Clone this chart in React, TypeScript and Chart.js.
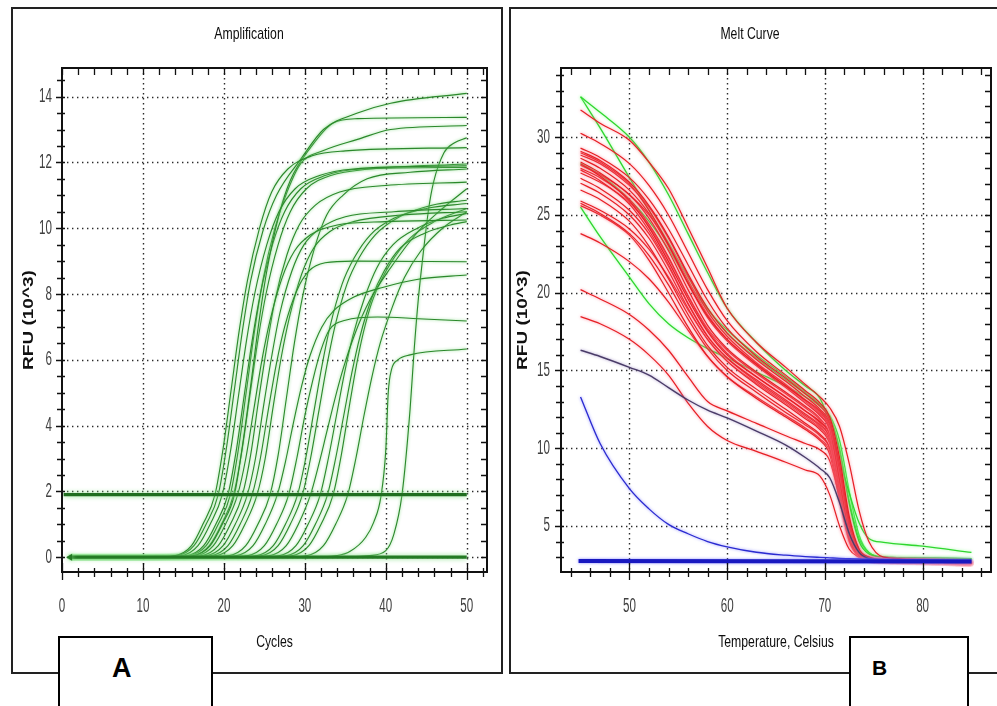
import React, { useEffect, useRef } from "react";
import { Chart, registerables } from "chart.js";

Chart.register(...registerables);

// ---------------- Amplification (Cycles vs RFU x10^3) ----------------
const ampXTicks = [0, 10, 20, 30, 40, 50];
const ampYTicks = [0, 2, 4, 6, 8, 10, 12, 14];

const ampBaseline = [[1, 0], [50, 0]];
const ampThreshold = [[0.2, 1.9], [50, 1.9]];

const ampC01 = [[1,0],[11,0],[14,0.05],[16,0.35],[17.4,1.0],[18.9,1.9],[19.9,3.3],[20.9,5.1],[21.9,6.9],[22.9,8.4],[24.4,10.0],[25.9,11.1],[27.9,11.8],[30.9,12.2],[35,12.35],[50,12.45]];
const ampC02 = [[1,0],[11.3,0],[14.3,0.05],[16.3,0.35],[17.8,1.0],[19.3,1.9],[20.3,3.3],[21.3,5.1],[22.3,6.9],[23.3,8.4],[24.8,9.9],[26.5,11.0],[29.5,12.1],[32.3,13.0],[36.5,13.5],[40.6,13.8],[50,14.1]];
const ampC03 = [[1,0],[11.8,0],[14.8,0.05],[16.8,0.35],[18.3,1.0],[19.8,1.9],[20.8,3.2],[21.8,4.9],[22.8,6.6],[23.8,8.0],[25.3,9.5],[26.8,10.5],[28.8,11.2],[31.8,11.6],[36,11.8],[50,11.9]];
const ampC04 = [[1,0],[13.3,0],[16.3,0.05],[18.3,0.35],[19.8,1.0],[21.3,1.9],[22.3,3.4],[23.3,5.2],[24.3,7.1],[25.3,8.7],[26.8,10.4],[28.2,11.45],[30.7,12.45],[33.5,13.2],[36.5,13.33],[50,13.37]];
const ampC05 = [[1,0],[12.5,0],[15.5,0.05],[17.5,0.35],[19,1.0],[20.5,1.9],[21.5,3.2],[22.5,4.9],[23.5,6.6],[24.5,8.0],[26,9.5],[27.5,10.5],[29.5,11.2],[32.5,11.6],[37,11.8],[50,11.85]];
const ampC06 = [[1,0],[12.8,0],[15.8,0.05],[17.8,0.35],[19.3,1.0],[20.8,1.9],[21.8,3.3],[22.8,5.1],[23.8,6.9],[24.8,8.4],[26.3,10.0],[27.8,11.1],[29.5,11.97],[32.3,12.36],[36.5,12.7],[40.6,13.0],[50,13.12]];
const ampC07 = [[1,0],[13.2,0],[16.2,0.05],[18.2,0.35],[19.7,1.0],[21.2,1.9],[22.2,3.2],[23.2,4.9],[24.2,6.6],[25.2,8.0],[26.7,9.5],[28.2,10.5],[30.2,11.2],[33.2,11.6],[38,11.8],[50,11.95]];
const ampC08 = [[1,0],[13.7,0],[16.7,0.05],[18.7,0.35],[20.2,1.0],[21.7,1.9],[22.7,3.0],[23.7,4.5],[24.7,6.0],[25.7,7.2],[27.2,8.5],[28.7,9.3],[30.7,9.8],[34,10.1],[40,10.2],[50,10.25]];
const ampC09 = [[1,0],[14.3,0],[17.3,0.05],[19.3,0.35],[20.8,1.0],[22.3,1.9],[23.3,3.1],[24.3,4.8],[25.3,6.4],[26.3,7.8],[27.8,9.2],[29.3,10.1],[31.3,10.7],[34.3,11.1],[40,11.3],[50,11.4]];
const ampC10 = [[1,0],[14.9,0],[17.9,0.05],[19.9,0.35],[21.4,1.0],[22.9,1.9],[23.9,3.0],[24.9,4.6],[25.9,6.1],[26.9,7.4],[28.4,8.7],[29.9,9.5],[31.9,10.0],[35,10.35],[41,10.5],[50,10.6]];
const ampC11 = [[1,0],[15.5,0],[18.5,0.05],[20.5,0.35],[22,1.0],[23.5,1.9],[24.5,3.0],[25.5,4.5],[26.5,5.9],[27.5,7.0],[29,8.1],[30.5,8.7],[32.5,8.95],[36,9.0],[50,8.98]];
const ampC12 = [[1,0],[16.1,0],[19.1,0.05],[21.1,0.35],[22.6,1.0],[24.1,1.9],[25.1,3.0],[26.1,4.6],[27.1,6.1],[28.1,7.3],[29.6,8.6],[31.1,9.4],[33.1,9.9],[36,10.2],[42,10.4],[50,10.5]];
const ampC13 = [[1,0],[17.7,0],[20.7,0.05],[22.7,0.35],[24.2,1.0],[25.7,1.9],[26.7,3.1],[27.7,4.8],[28.7,6.5],[29.7,7.9],[31.2,9.4],[32.7,10.4],[34.7,11.0],[37.7,11.5],[43,11.7],[50,11.8]];
const ampC14 = [[1,0],[18.6,0],[21.6,0.05],[23.6,0.35],[25.1,1.0],[26.6,1.9],[27.6,2.9],[28.6,4.1],[29.6,5.2],[30.6,6.1],[32.1,7.0],[33.6,7.5],[36,7.9],[39.6,8.2],[44,8.45],[50,8.58]];
const ampC15 = [[1,0],[20,0],[23,0.05],[25,0.35],[26.5,1.0],[28,1.9],[29,3.0],[30,4.3],[31,5.4],[32,6.3],[33,6.9],[35,7.2],[39,7.3],[44,7.25],[50,7.18]];
const ampC16 = [[1,0],[21.1,0],[24.1,0.05],[26.1,0.35],[27.6,1.0],[29.1,1.9],[30.1,3.0],[31.1,4.4],[32.1,5.8],[33.1,7.0],[34.6,8.3],[36.1,9.1],[38.1,9.8],[41,10.3],[45,10.6],[50,10.75]];
const ampC17 = [[1,0],[21.7,0],[24.7,0.05],[26.7,0.35],[28.2,1.0],[29.7,1.9],[30.7,3.0],[31.7,4.4],[32.7,5.8],[33.7,7.0],[35.2,8.3],[36.7,9.1],[38.7,9.8],[41.7,10.35],[45.7,10.7],[50,10.85]];
const ampC18 = [[1,0],[22.7,0],[25.7,0.05],[27.7,0.35],[29.2,1.0],[30.7,1.9],[31.7,2.8],[32.7,3.8],[33.7,4.8],[34.7,5.7],[36.2,6.8],[38,7.8],[40.6,8.8],[44,9.9],[47,10.6],[50,11.2]];
const ampC19 = [[1,0],[23.9,0],[26.9,0.05],[28.9,0.35],[30.4,1.0],[31.9,1.9],[32.9,3.0],[33.9,4.3],[34.9,5.6],[35.9,6.7],[37.4,7.9],[38.9,8.8],[40.9,9.5],[43.9,10.0],[47,10.3],[50,10.45]];
const ampC20 = [[1,0],[24.8,0],[27.8,0.05],[29.8,0.35],[31.3,1.0],[32.8,1.9],[33.8,3.0],[34.8,4.3],[35.8,5.6],[36.8,6.7],[38.3,7.9],[39.8,8.7],[41.8,9.4],[44.8,9.85],[48,10.1],[50,10.2]];
const ampC21 = [[1,0],[25.5,0],[28.5,0.05],[30.5,0.35],[32,1.0],[33.5,1.9],[34.5,3.1],[35.5,4.6],[36.5,6.0],[37.5,7.1],[38.5,7.9],[40.5,8.9],[43,9.7],[46,10.2],[50,10.6]];
const ampC22 = [[1,0],[27.3,0],[30.3,0.05],[32.3,0.35],[33.8,1.0],[35.3,1.9],[36.3,3.0],[37.3,4.3],[38.3,5.5],[39.3,6.5],[40.8,7.6],[42.3,8.5],[44.3,9.3],[47,10.0],[50,10.5]];
const ampC23 = [[1,0],[30,0],[34,0.05],[35.6,0.18],[37.5,0.6],[38.5,1.06],[39.4,1.85],[40,3.27],[40.3,5.0],[40.7,5.7],[41.5,6.0],[43,6.15],[50,6.33]];
const ampC24 = [[1,0],[33,0],[38,0.05],[40,0.2],[41,0.7],[42,1.9],[43,4.5],[43.5,6.3],[44,7.8],[44.7,9.4],[45.3,10.6],[45.9,11.4],[47.2,12.3],[48.5,12.6],[50,12.75]];

const ampCurves = [ampC01, ampC02, ampC03, ampC04, ampC05, ampC06, ampC07, ampC08, ampC09, ampC10, ampC11, ampC12,
  ampC13, ampC14, ampC15, ampC16, ampC17, ampC18, ampC19, ampC20, ampC21, ampC22, ampC23, ampC24];

// ---------------- Melt curve (Temperature vs RFU x10^3) ----------------
const meltXTicks = [50, 60, 70, 80];
const meltYTicks = [5, 10, 15, 20, 25, 30];
const meltTemps = [45, 47, 50, 52, 54, 56, 58, 60, 63, 66, 68, 69.5, 70.5, 71.5, 72.5, 73.5, 74.5, 76, 80, 85];

const meltR01 = [31.75, 30.9, 29.8, 28.4, 26.7, 24.2, 21.6, 19.0, 16.8, 15.2, 14.1, 13.3, 12.6, 11.4, 9.0, 6.0, 4.0, 3.0, 2.85, 2.75];
const meltR02 = [30.25, 29.6, 28.3, 26.9, 25.0, 22.6, 20.2, 18.2, 16.2, 14.7, 13.7, 12.9, 12.0, 9.4, 5.6, 3.5, 3.0, 2.85, 2.8, 2.7];
const meltR03 = [29.3, 28.7, 27.4, 26.0, 24.1, 21.8, 19.5, 17.7, 15.9, 14.5, 13.5, 12.7, 11.8, 9.0, 5.3, 3.4, 2.95, 2.8, 2.75, 2.65];
const meltR04 = [29.1, 28.5, 27.1, 25.6, 23.6, 21.2, 19.0, 17.4, 15.7, 14.3, 13.3, 12.5, 11.6, 8.6, 5.0, 3.3, 2.9, 2.8, 2.75, 2.65];
const meltR05 = [29.0, 28.4, 27.0, 25.3, 23.1, 20.6, 18.5, 17.0, 15.4, 14.0, 13.1, 12.4, 11.5, 8.9, 5.4, 3.5, 3.0, 2.85, 2.8, 2.7];
const meltR06 = [28.86, 28.3, 26.9, 25.5, 23.5, 21.1, 18.8, 17.2, 15.5, 14.1, 13.1, 12.3, 11.3, 8.0, 4.6, 3.2, 2.9, 2.8, 2.7, 2.65];
const meltR07 = [28.65, 28.0, 26.6, 25.1, 23.0, 20.6, 18.4, 16.9, 15.3, 13.9, 12.9, 12.1, 11.2, 8.3, 4.9, 3.3, 2.9, 2.8, 2.7, 2.6];
const meltR08 = [28.4, 27.7, 26.3, 25.0, 23.1, 20.8, 18.6, 17.0, 15.4, 14.0, 13.0, 12.2, 11.2, 8.6, 5.2, 3.4, 2.95, 2.8, 2.75, 2.7];
const meltR09 = [28.3, 27.5, 25.9, 24.2, 22.0, 19.6, 17.5, 16.0, 14.6, 13.3, 12.4, 11.7, 10.9, 8.2, 4.8, 3.3, 2.9, 2.8, 2.7, 2.6];
const meltR10 = [28.2, 27.6, 26.3, 24.8, 22.7, 20.2, 17.9, 16.4, 14.9, 13.6, 12.7, 11.9, 10.9, 7.8, 4.5, 3.2, 2.9, 2.8, 2.7, 2.6];
const meltR11 = [28.0, 27.4, 26.0, 24.4, 22.3, 19.8, 17.6, 16.1, 14.6, 13.3, 12.4, 11.6, 10.6, 7.5, 4.3, 3.1, 2.85, 2.75, 2.7, 2.6];
const meltR12 = [27.9, 27.2, 25.7, 24.0, 21.8, 19.3, 17.2, 15.8, 14.4, 13.1, 12.2, 11.5, 10.7, 8.1, 4.9, 3.3, 2.9, 2.8, 2.7, 2.6];
const meltR13 = [27.7, 27.1, 25.8, 24.3, 22.2, 19.8, 17.7, 16.3, 14.8, 13.5, 12.6, 11.8, 10.8, 8.0, 4.7, 3.2, 2.9, 2.8, 2.7, 2.6];
const meltR14 = [27.36, 26.7, 25.3, 23.8, 21.7, 19.3, 17.2, 15.8, 14.3, 13.0, 12.1, 11.4, 10.4, 7.3, 4.2, 3.1, 2.85, 2.75, 2.7, 2.6];
const meltR15 = [27.04, 26.4, 25.0, 23.5, 21.4, 19.0, 17.0, 15.6, 14.1, 12.8, 11.9, 11.2, 10.3, 7.6, 4.5, 3.2, 2.9, 2.8, 2.7, 2.6];
const meltR16 = [26.6, 26.0, 24.6, 23.0, 20.9, 18.6, 16.6, 15.2, 13.8, 12.5, 11.6, 10.9, 10.0, 7.0, 4.1, 3.1, 2.85, 2.75, 2.7, 2.6];
const meltR17 = [25.9, 25.3, 24.1, 22.8, 21.0, 18.9, 17.0, 15.6, 14.2, 12.9, 12.0, 11.3, 10.5, 7.9, 4.8, 3.3, 2.9, 2.8, 2.7, 2.6];
const meltR18 = [25.75, 25.1, 23.8, 22.4, 20.5, 18.3, 16.4, 15.0, 13.6, 12.3, 11.5, 10.8, 10.0, 7.2, 4.3, 3.1, 2.85, 2.75, 2.7, 2.6];
const meltR19 = [25.6, 25.0, 23.7, 22.1, 20.0, 17.8, 15.9, 14.6, 13.2, 12.0, 11.2, 10.5, 9.6, 6.7, 4.0, 3.0, 2.8, 2.75, 2.7, 2.6];
const meltR20 = [23.8, 23.2, 22.0, 20.9, 19.4, 17.6, 15.9, 14.6, 13.3, 12.1, 11.3, 10.6, 9.8, 7.0, 4.2, 3.1, 2.85, 2.75, 2.7, 2.6];
const meltR21 = [20.2, 19.6, 18.6, 17.6, 16.3, 14.6, 13.0, 12.4, 11.6, 10.8, 10.3, 9.9, 9.2, 6.8, 4.2, 3.1, 2.85, 2.75, 2.7, 2.6];
const meltR22 = [18.46, 18.0, 17.0, 16.0, 14.7, 12.9, 11.4, 10.5, 9.8, 9.1, 8.6, 8.2, 7.0, 5.0, 3.5, 3.0, 2.8, 2.75, 2.7, 2.6];

const meltG01 = [32.6, 31.6, 30.0, 28.4, 26.3, 23.8, 21.3, 19.0, 16.8, 15.0, 14.0, 13.2, 11.6, 9.3, 7.1, 5.2, 4.2, 3.95, 3.7, 3.3];
const meltG02 = [32.6, 30.6, 27.4, 25.3, 23.2, 21.0, 19.0, 17.4, 15.8, 14.4, 13.5, 12.8, 12.0, 9.8, 6.4, 4.0, 3.2, 3.0, 2.9, 2.85];
const meltG03 = [28.3, 27.6, 26.0, 24.6, 22.8, 20.7, 18.9, 17.6, 16.0, 14.6, 13.6, 12.8, 12.0, 10.0, 6.6, 4.2, 3.3, 3.0, 2.95, 2.9];
const meltG04 = [25.5, 23.6, 21.0, 19.3, 18.0, 17.1, 16.4, 15.8, 14.9, 14.0, 13.3, 12.7, 12.1, 10.5, 7.2, 4.4, 3.3, 3.0, 2.95, 2.9];

const meltPurple = [16.3, 15.9, 15.2, 14.7, 13.9, 13.1, 12.45, 11.95, 11.1, 10.2, 9.4, 8.7, 8.1, 6.5, 4.5, 3.3, 2.9, 2.8, 2.75, 2.7];
const meltBlue = [13.3, 10.3, 7.4, 6.1, 5.1, 4.5, 4.0, 3.66, 3.31, 3.12, 3.03, 2.98, 2.95, 2.92, 2.9, 2.88, 2.86, 2.85, 2.83, 2.8];
const meltBaseTemps = [44.8, 85];
const meltBaseValues = [2.75, 2.72];

const meltReds = [meltR01, meltR02, meltR03, meltR04, meltR05, meltR06, meltR07, meltR08, meltR09, meltR10, meltR11,
  meltR12, meltR13, meltR14, meltR15, meltR16, meltR17, meltR18, meltR19, meltR20, meltR21, meltR22];
const meltGreens = [meltG01, meltG02, meltG03, meltG04];

// ---------------- helpers ----------------
const SANS = "'Liberation Sans', Arial, sans-serif";
const TICK_SIZE = 20;
const TICK_CONDENSE = 0.58;
const TITLE_CONDENSE = 0.72;
const ROTATED_CONDENSE = 0.8;

const pairs = (arr: number[][]) => arr.map(([x, y]) => ({ x, y }));
const zipXY = (xs: number[], ys: number[]) => xs.map((x, i) => ({ x, y: ys[i] }));

// Canvas text is drawn narrower (like the condensed face of the original software).
function condenseText(canvas: HTMLCanvasElement) {
  const ctx: any = canvas.getContext("2d");
  if (!ctx || ctx.__condensed) return;
  const orig = ctx.fillText.bind(ctx);
  ctx.fillText = (text: string, x: number, y: number, maxWidth?: number) => {
    const t = ctx.getTransform();
    const m = /(\d+(?:\.\d+)?)px/.exec(ctx.font);
    const size = m ? parseFloat(m[1]) : 12;
    if (Math.abs(t.b) < 1e-6 && Math.abs(t.c) < 1e-6) {
      const f = size >= TICK_SIZE ? TICK_CONDENSE : TITLE_CONDENSE;
      const w = ctx.measureText(text).width * f;
      const mw = maxWidth !== undefined ? Math.min(maxWidth, w) : w;
      return orig(text, x, y, Math.max(mw, 0.1));
    }
    ctx.save();
    ctx.translate(x, y);
    ctx.scale(1, ROTATED_CONDENSE);
    orig(text, 0, 0);
    ctx.restore();
  };
  ctx.__condensed = true;
}

const glowPlugin = {
  id: "glow",
  beforeDatasetDraw(chart: any, args: any) {
    const ds = chart.data.datasets[args.index];
    if (ds.glow) {
      chart.ctx.save();
      chart.ctx.shadowColor = ds.glow;
      chart.ctx.shadowBlur = ds.glowBlur || 3;
    }
  },
  afterDatasetDraw(chart: any, args: any) {
    const ds = chart.data.datasets[args.index];
    if (ds.glow) chart.ctx.restore();
  },
};

const decorPlugin = {
  id: "decor",
  beforeDatasetsDraw(chart: any, _a: any, o: any) {
    const { ctx, chartArea: a } = chart;
    const xs = chart.scales.x, ys = chart.scales.y;
    ctx.save();
    ctx.strokeStyle = "#2a2a2a";
    ctx.lineWidth = 1.4;
    ctx.setLineDash([1.4, 3.6]);
    ctx.beginPath();
    o.xMajor.forEach((v: number) => {
      const p = Math.round(xs.getPixelForValue(v)) + 0.5;
      if (p > a.left + 2 && p < a.right - 2) { ctx.moveTo(p, a.top); ctx.lineTo(p, a.bottom); }
    });
    o.yMajor.forEach((v: number) => {
      const p = Math.round(ys.getPixelForValue(v)) + 0.5;
      if (p > a.top + 2 && p < a.bottom - 2) { ctx.moveTo(a.left, p); ctx.lineTo(a.right, p); }
    });
    ctx.stroke();
    ctx.restore();
  },
  afterDatasetsDraw(chart: any, _a: any, o: any) {
    const { ctx, chartArea: a } = chart;
    const xs = chart.scales.x, ys = chart.scales.y;
    ctx.save();
    ctx.strokeStyle = "#111";
    ctx.lineWidth = 2;
    ctx.strokeRect(a.left, a.top, a.right - a.left, a.bottom - a.top);
    ctx.lineWidth = 1.3;
    ctx.beginPath();
    const seg = (x1: number, y1: number, x2: number, y2: number) => { ctx.moveTo(x1, y1); ctx.lineTo(x2, y2); };
    for (let i = 0; i <= o.xMinorCount; i++) {
      const v = o.xMinorStart + i * o.xMinorStep;
      const p = Math.round(xs.getPixelForValue(v)) + 0.5;
      if (p < a.left - 0.5 || p > a.right + 0.5) continue;
      const major = o.xMajor.some((m: number) => Math.abs(m - v) < 1e-6);
      seg(p, a.bottom - (major ? 9 : 4), p, a.bottom + (major ? 8 : 5));
      seg(p, a.top, p, a.top + 7);
    }
    for (let i = 0; i <= o.yMinorCount; i++) {
      const v = o.yMinorStart + i * o.yMinorStep;
      const p = Math.round(ys.getPixelForValue(v)) + 0.5;
      if (p < a.top - 0.5 || p > a.bottom + 0.5) continue;
      const major = o.yMajor.some((m: number) => Math.abs(m - v) < 1e-6);
      seg(a.left - (major ? 6 : 5), p, a.left + 3, p);
      seg(a.right - 6, p, a.right, p);
    }
    ctx.stroke();
    ctx.restore();
  },
};

function fixedTicks(values: number[]) {
  return (scale: any) => {
    scale.ticks = values.map((v) => ({ value: v }));
  };
}

export default function App() {
  const ampRef = useRef<HTMLCanvasElement>(null);
  const meltRef = useRef<HTMLCanvasElement>(null);

  useEffect(() => {
    document.body.style.margin = "0";
    document.body.style.background = "#fff";
    condenseText(ampRef.current as HTMLCanvasElement);
    condenseText(meltRef.current as HTMLCanvasElement);

    const ampGreen = "#2b882b";
    const ampGlow = "rgba(120,215,120,0.95)";
    const ampDatasets: any[] = [
      {
        data: pairs(ampBaseline), borderColor: "#237a23", borderWidth: 3.2,
        pointRadius: [4, 0], pointStyle: "triangle", rotation: -90, pointBackgroundColor: "#237a23", pointBorderWidth: 0,
        glow: "rgba(140,225,140,1)", glowBlur: 5,
      },
      { data: pairs(ampThreshold), borderColor: "#1f6e1f", borderWidth: 3.2, pointRadius: 0, glow: "rgba(140,225,140,1)", glowBlur: 5 },
      ...ampCurves.map((c) => ({
        data: pairs(c), borderColor: ampGreen, borderWidth: 1.1, pointRadius: 0,
        cubicInterpolationMode: "monotone", glow: ampGlow, glowBlur: 3,
      })),
    ];

    const tickFont = { family: SANS, size: TICK_SIZE };
    const titleFont = { family: SANS, size: 17, weight: "normal" };
    const yTitleFont = { family: SANS, size: 19, weight: "bold" };
    const tickColor = "#404040";
    const titleColor = "#0d0d0d";

    const amp = new Chart(ampRef.current as HTMLCanvasElement, {
      type: "line",
      data: { datasets: ampDatasets },
      plugins: [glowPlugin, decorPlugin],
      options: {
        responsive: false,
        animation: false,
        events: [],
        layout: { padding: { left: 0, right: 15, top: 0, bottom: 0 } },
        plugins: {
          legend: { display: false },
          tooltip: { enabled: false },
          title: { display: true, text: "Amplification", color: titleColor, font: titleFont, padding: { top: 16, bottom: 23.6 } },
          decor: {
            xMajor: ampXTicks, yMajor: ampYTicks,
            xMinorStart: 0, xMinorStep: 2, xMinorCount: 26,
            yMinorStart: 0, yMinorStep: 0.5, yMinorCount: 30,
          },
        } as any,
        scales: {
          x: {
            type: "linear", min: 0, max: 52.5,
            afterBuildTicks: fixedTicks(ampXTicks),
            afterFit: (s: any) => { s.height = 101; },
            grid: { display: false, drawTicks: false },
            border: { display: false },
            ticks: { color: tickColor, font: tickFont, padding: 22.5, maxRotation: 0, autoSkip: false },
            title: { display: true, text: "Cycles", color: titleColor, font: titleFont, padding: { top: 0, bottom: 20.5 } },
          },
          y: {
            type: "linear", min: -0.45, max: 14.87,
            afterBuildTicks: fixedTicks(ampYTicks),
            afterFit: (s: any) => { s.width = 51; },
            grid: { display: false, drawTicks: false },
            border: { display: false },
            ticks: { color: tickColor, font: tickFont, padding: 10, autoSkip: false },
            title: { display: true, text: "RFU (10^3)", color: "#111", font: yTitleFont, padding: { top: 6, bottom: 0 } },
          },
        },
      } as any,
    });

    const meltDatasets: any[] = [
      { data: zipXY(meltBaseTemps, meltBaseValues), borderColor: "#1818c0", borderWidth: 4, pointRadius: 0, glow: "rgba(120,120,255,0.9)", glowBlur: 3 },
      { data: zipXY(meltTemps, meltBlue), borderColor: "#2a2ad0", borderWidth: 1.3, pointRadius: 0, cubicInterpolationMode: "monotone", glow: "rgba(130,130,255,0.9)", glowBlur: 3 },
      { data: zipXY(meltTemps, meltPurple), borderColor: "#4a3c68", borderWidth: 1.4, pointRadius: 0, cubicInterpolationMode: "monotone", glow: "rgba(150,130,190,0.8)", glowBlur: 3 },
      ...meltReds.map((r) => ({
        data: zipXY(meltTemps, r), borderColor: "#e61f24", borderWidth: 1.2, pointRadius: 0,
        cubicInterpolationMode: "monotone", glow: "rgba(255,120,140,0.9)", glowBlur: 3,
      })),
      ...meltGreens.map((g) => ({
        data: zipXY(meltTemps, g), borderColor: "#2fd62f", borderWidth: 1.3, pointRadius: 0,
        cubicInterpolationMode: "monotone", glow: "rgba(140,255,140,0.9)", glowBlur: 3,
      })),
    ];

    const melt = new Chart(meltRef.current as HTMLCanvasElement, {
      type: "line",
      data: { datasets: meltDatasets },
      plugins: [glowPlugin, decorPlugin],
      options: {
        responsive: false,
        animation: false,
        events: [],
        layout: { padding: { left: 0, right: 6, top: 0, bottom: 0 } },
        plugins: {
          legend: { display: false },
          tooltip: { enabled: false },
          title: { display: true, text: "Melt Curve", color: titleColor, font: titleFont, padding: { top: 16, bottom: 23.6 } },
          decor: {
            xMajor: meltXTicks, yMajor: meltYTicks,
            xMinorStart: 44, xMinorStep: 2, xMinorCount: 21,
            yMinorStart: 3, yMinorStep: 1, yMinorCount: 31,
          },
        } as any,
        scales: {
          x: {
            type: "linear", min: 43, max: 87,
            afterBuildTicks: fixedTicks(meltXTicks),
            afterFit: (s: any) => { s.height = 101; },
            grid: { display: false, drawTicks: false },
            border: { display: false },
            ticks: { color: tickColor, font: tickFont, padding: 22.5, maxRotation: 0, autoSkip: false },
            title: { display: true, text: "Temperature, Celsius", color: titleColor, font: titleFont, padding: { top: 0, bottom: 20.5 } },
          },
          y: {
            type: "linear", min: 2.04, max: 34.45,
            afterBuildTicks: fixedTicks(meltYTicks),
            afterFit: (s: any) => { s.width = 52; },
            grid: { display: false, drawTicks: false },
            border: { display: false },
            ticks: { color: tickColor, font: tickFont, padding: 11, autoSkip: false },
            title: { display: true, text: "RFU (10^3)", color: "#111", font: yTitleFont, padding: { top: 2, bottom: 0 } },
          },
        },
      } as any,
    });

    return () => {
      amp.destroy();
      melt.destroy();
    };
  }, []);

  const frame: React.CSSProperties = { position: "absolute", border: "2px solid #222", boxSizing: "border-box", pointerEvents: "none" };
  const labelBox: React.CSSProperties = { position: "absolute", border: "2px solid #000", background: "#fff", boxSizing: "border-box" };

  return (
    <div style={{ position: "relative", width: 997, height: 706, overflow: "hidden", background: "#fff" }}>
      <canvas ref={ampRef} width={491} height={665} style={{ position: "absolute", left: 11, top: 8, width: 491, height: 665 }} />
      <canvas ref={meltRef} width={488} height={665} style={{ position: "absolute", left: 509, top: 8, width: 488, height: 665 }} />
      <div style={{ ...frame, left: 11, top: 7, width: 492, height: 667 }} />
      <div style={{ ...frame, left: 509, top: 7, width: 500, height: 667 }} />
      <div style={{ ...labelBox, left: 58, top: 636, width: 155, height: 90 }}>
        <div style={{ position: "absolute", left: 52, top: 17, font: "bold 27px 'Liberation Sans', Arial, sans-serif", lineHeight: "27px", color: "#000" }}>A</div>
      </div>
      <div style={{ ...labelBox, left: 849, top: 636, width: 120, height: 90 }}>
        <div style={{ position: "absolute", left: 21, top: 19, font: "bold 21px 'Liberation Sans', Arial, sans-serif", lineHeight: "21px", color: "#000" }}>B</div>
      </div>
    </div>
  );
}
